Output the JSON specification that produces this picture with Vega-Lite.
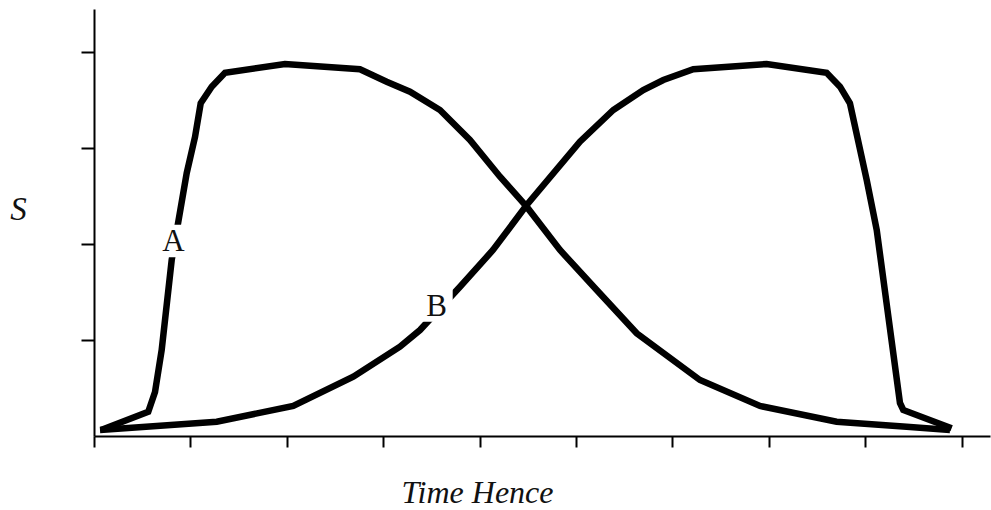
{
  "$schema": "https://vega.github.io/schema/vega-lite/v6.json",
  "width": 896,
  "height": 427,
  "autosize": {"type": "none"},
  "padding": {"left": 94, "top": 9, "right": 1, "bottom": 74},
  "background": "white",
  "config": {"view": {"stroke": null}},
  "datasets": {
    "curves": [
      {"series": "A", "x": 0.073, "y": 0.0625},
      {"series": "A", "x": 0.563, "y": 0.253},
      {"series": "A", "x": 0.633, "y": 0.458},
      {"series": "A", "x": 0.702, "y": 0.896},
      {"series": "A", "x": 0.806, "y": 1.833},
      {"series": "A", "x": 0.962, "y": 2.74},
      {"series": "A", "x": 1.048, "y": 3.115},
      {"series": "A", "x": 1.107, "y": 3.466},
      {"series": "A", "x": 1.221, "y": 3.639},
      {"series": "A", "x": 1.359, "y": 3.784},
      {"series": "A", "x": 1.981, "y": 3.875},
      {"series": "A", "x": 2.759, "y": 3.82},
      {"series": "A", "x": 3.036, "y": 3.69},
      {"series": "A", "x": 3.278, "y": 3.586},
      {"series": "A", "x": 3.589, "y": 3.396},
      {"series": "A", "x": 3.9, "y": 3.083},
      {"series": "A", "x": 4.212, "y": 2.701},
      {"series": "A", "x": 4.488, "y": 2.389},
      {"series": "A", "x": 4.834, "y": 1.9375},
      {"series": "A", "x": 5.215, "y": 1.521},
      {"series": "A", "x": 5.63, "y": 1.07},
      {"series": "A", "x": 6.286, "y": 0.583},
      {"series": "A", "x": 6.909, "y": 0.3125},
      {"series": "A", "x": 7.704, "y": 0.149},
      {"series": "A", "x": 8.43, "y": 0.097},
      {"series": "A", "x": 8.88, "y": 0.0625},
      {"series": "B", "x": 0.062, "y": 0.0625},
      {"series": "B", "x": 1.273, "y": 0.149},
      {"series": "B", "x": 2.067, "y": 0.3125},
      {"series": "B", "x": 2.69, "y": 0.618},
      {"series": "B", "x": 3.174, "y": 0.93},
      {"series": "B", "x": 3.382, "y": 1.104},
      {"series": "B", "x": 3.797, "y": 1.555},
      {"series": "B", "x": 4.139, "y": 1.9375},
      {"series": "B", "x": 4.489, "y": 2.406},
      {"series": "B", "x": 5.041, "y": 3.066},
      {"series": "B", "x": 5.387, "y": 3.396},
      {"series": "B", "x": 5.698, "y": 3.604},
      {"series": "B", "x": 5.906, "y": 3.708},
      {"series": "B", "x": 6.217, "y": 3.82},
      {"series": "B", "x": 6.978, "y": 3.875},
      {"series": "B", "x": 7.6, "y": 3.784},
      {"series": "B", "x": 7.739, "y": 3.639},
      {"series": "B", "x": 7.842, "y": 3.466},
      {"series": "B", "x": 8.016, "y": 2.667},
      {"series": "B", "x": 8.12, "y": 2.146},
      {"series": "B", "x": 8.361, "y": 0.344},
      {"series": "B", "x": 8.395, "y": 0.271},
      {"series": "B", "x": 8.897, "y": 0.08}
    ],
    "labels": [
      {"label": "A", "x": 0.825, "y": 2.031},
      {"label": "B", "x": 3.553, "y": 1.359}
    ]
  },
  "encoding": {
    "x": {
      "field": "x",
      "type": "quantitative",
      "scale": {"domain": [0, 9.295], "nice": false, "zero": false},
      "axis": {
        "values": [0, 1, 2, 3, 4, 5, 6, 7, 8, 9],
        "labels": false,
        "grid": false,
        "domainColor": "black",
        "domainWidth": 2,
        "tickColor": "black",
        "tickWidth": 2,
        "tickSize": 11,
        "title": "Time Hence",
        "titleFont": "Liberation Serif",
        "titleFontStyle": "italic",
        "titleFontWeight": "normal",
        "titleFontSize": 32,
        "titleColor": "#111111",
        "titleAnchor": null,
        "titleAlign": "center",
        "titleBaseline": "alphabetic",
        "titleX": 383,
        "titleY": 66
      }
    },
    "y": {
      "field": "y",
      "type": "quantitative",
      "scale": {"domain": [0, 4.448], "nice": false, "zero": false},
      "axis": {
        "values": [1, 2, 3, 4],
        "labels": false,
        "grid": false,
        "domainColor": "black",
        "domainWidth": 2,
        "tickColor": "black",
        "tickWidth": 2,
        "tickSize": 13,
        "title": "S",
        "titleFont": "Liberation Serif",
        "titleFontStyle": "italic",
        "titleFontWeight": "normal",
        "titleFontSize": 33,
        "titleColor": "#111111",
        "titleAngle": 0,
        "titleAnchor": null,
        "titleAlign": "center",
        "titleBaseline": "middle",
        "titleX": -76,
        "titleY": 200
      }
    }
  },
  "layer": [
    {
      "data": {"name": "curves"},
      "mark": {"type": "line", "color": "black", "strokeWidth": 6.5, "strokeJoin": "miter", "strokeCap": "butt"},
      "encoding": {"detail": {"field": "series"}}
    },
    {
      "data": {"name": "labels"},
      "mark": {"type": "point", "shape": "square", "filled": true, "color": "white", "opacity": 1, "size": 1050, "strokeWidth": 0}
    },
    {
      "data": {"name": "labels"},
      "mark": {"type": "text", "font": "Liberation Serif", "fontSize": 31, "color": "#111111", "align": "center", "baseline": "middle", "dy": 1},
      "encoding": {"text": {"field": "label"}}
    }
  ]
}
